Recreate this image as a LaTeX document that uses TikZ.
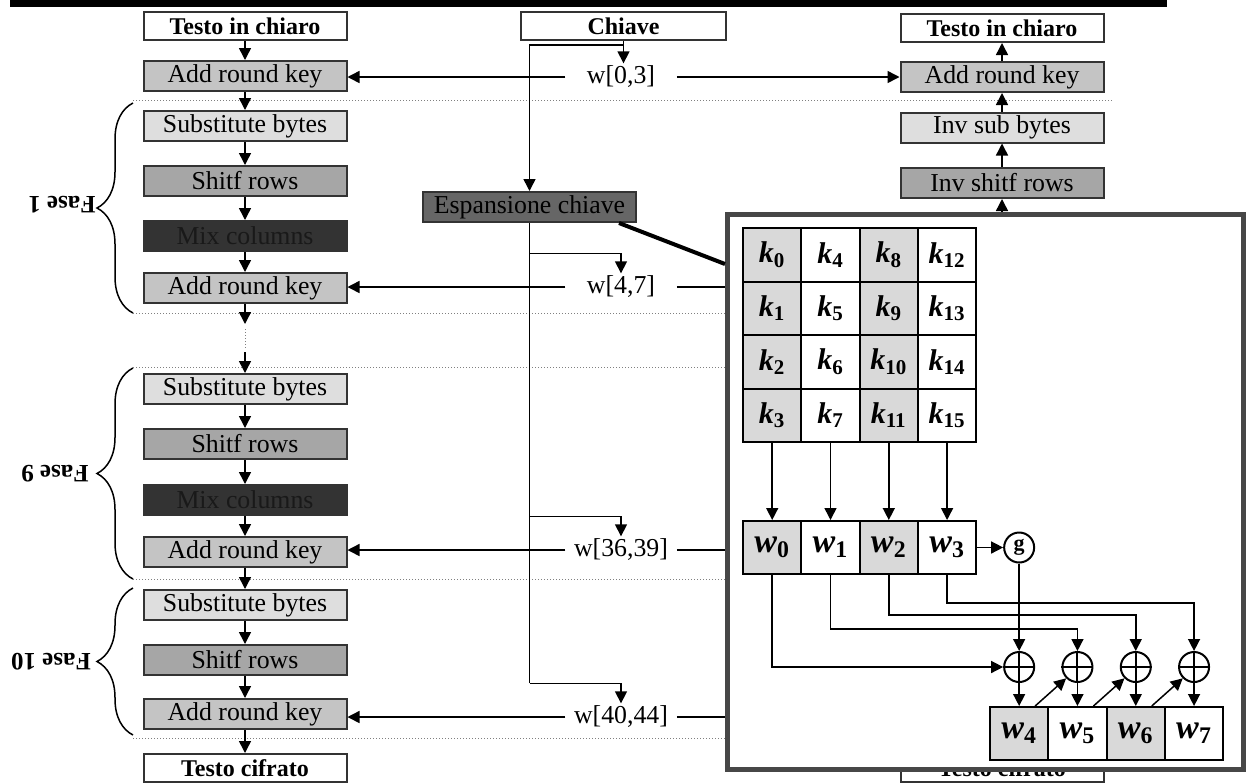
\documentclass[tikz,border=0pt]{standalone}
\usepackage{fontspec}
\setmainfont{Liberation Serif}
\usepackage{tikz}
\usetikzlibrary{arrows, arrows.meta, decorations.pathreplacing}
\definecolor{arkfill}{gray}{0.77}
\definecolor{subfill}{gray}{0.87}
\definecolor{shiftfill}{gray}{0.65}
\definecolor{mixfill}{gray}{0.2}
\definecolor{expfill}{gray}{0.4}
\definecolor{cellfill}{gray}{0.85}
\definecolor{framegray}{gray}{0.28}
\newcommand{\kv}[2]{\textbf{\textit{#1}\textsubscript{#2}}}

\begin{document}
\begin{tikzpicture}[x=0.5pt, y=-0.5pt, >={Triangle[width=6pt,length=6pt]}, line width=0.75pt]
\tikzstyle{stage}=[draw=black!80, line width=1pt, minimum width=101.5pt, minimum height=15pt, inner sep=0pt, font=\fontsize{12.9}{14}\selectfont]
\tikzstyle{title}=[stage, fill=white, minimum height=14pt, font=\fontsize{12}{14}\selectfont\bfseries]
\tikzstyle{arkbox}=[stage, fill=arkfill]
\tikzstyle{subbox}=[stage, fill=subfill]
\tikzstyle{shiftbox}=[stage, fill=shiftfill]
\tikzstyle{mixbox}=[stage, fill=mixfill, text=black!90]
\tikzstyle{wlabel}=[inner xsep=3pt, inner ysep=1pt, minimum width=55pt, font=\fontsize{12.9}{14}\selectfont]
\tikzstyle{divider}=[densely dotted, gray, line width=0.5pt]
\tikzstyle{phase}=[rotate=180, font=\fontsize{12.5}{14}\selectfont\bfseries]
\tikzstyle{cell}=[draw, line width=1pt, minimum width=29.15pt, minimum height=26.75pt, inner sep=0pt, font=\fontsize{15}{16}\selectfont]
\tikzstyle{wcell}=[cell, minimum height=26.5pt, font=\fontsize{17}{18}\selectfont]
\tikzstyle{xorop}=[circle, draw, line width=1pt, minimum size=15pt, inner sep=0pt]
\useasboundingbox (0,0) rectangle (1252,783);
\fill (10,0) rectangle (1167,7);

% cifratura
\node[title] (ltop) at (245,26) {Testo in chiaro};
\node[arkbox] (ark0) at (245,76) {Add round key};
\node[subbox] (sb1) at (245,126) {Substitute bytes};
\node[shiftbox] (sr1) at (245,181) {Shitf rows};
\node[mixbox] (mc1) at (245,236) {Mix columns};
\node[arkbox] (ark1) at (245,288) {Add round key};
\node[subbox] (sb9) at (245,389) {Substitute bytes};
\node[shiftbox] (sr9) at (245,444) {Shitf rows};
\node[mixbox] (mc9) at (245,500) {Mix columns};
\node[arkbox] (ark9) at (245,552) {Add round key};
\node[subbox] (sb10) at (245,605) {Substitute bytes};
\node[shiftbox] (sr10) at (245,660) {Shitf rows};
\node[arkbox] (ark10) at (245,714) {Add round key};
\node[title] (lbot) at (245,768) {Testo cifrato};

% decifratura
\node[title] (rtop) at (1002,28) {Testo in chiaro};
\node[arkbox] (rark) at (1002,77) {Add round key};
\node[subbox] (risb) at (1002,127.5) {Inv sub bytes};
\node[shiftbox] (risr) at (1002,183) {Inv shitf rows};
\node[title] (rbot) at (1002,768) {Testo cifrato};

% chiave
\node[title, minimum width=102.5pt] (key) at (623.5,26) {Chiave};
\node[stage, fill=expfill, minimum width=106.5pt] (kexp) at (529.5,207) {Espansione chiave};
\node[wlabel] (kw03) at (621,77) {w[0,3]};
\node[wlabel] (kw47) at (621,287) {w[4,7]};
\node[wlabel] (kw3639) at (621,550) {w[36,39]};
\node[wlabel] (kw4044) at (621,717) {w[40,44]};

\foreach \y in {100,313,367,579,738}
  \draw[divider] (133,\y) -- (1113,\y);

\path[->]
(ltop) edge (ark0)
(ark0) edge (sb1)
(sb1) edge (sr1)
(sr1) edge (mc1)
(mc1) edge (ark1)
(sb9) edge (sr9)
(sr9) edge (mc9)
(mc9) edge (ark9)
(ark9) edge (sb10)
(sb10) edge (sr10)
(sr10) edge (ark10)
(ark10) edge (lbot)
(rark) edge (rtop)
(risb) edge (rark)
(risr) edge (risb);
\draw[->] (ark1.south) -- ++(0,20);
\draw[divider] (ark1.south) ++(0,25) -- ++(0,20);
\draw[->] (sb9.north) ++(0,-21) -- (sb9.north);
\draw[->] (risr.south) ++(0,30) -- (risr.south);
\draw[->] (rbot.north) ++(0,-20) -- (rbot.north);

\draw (key.south) -- ++(0,4) coordinate (kj);
\draw[->] (kj) -| (kexp.north);
\draw[->] (kj) -- (kj |- kw03.north);
\path (kw47.north) ++(0,-20) coordinate (b47)
      (kw3639.north) ++(0,-20) coordinate (b3639)
      (kw4044.north) ++(0,-20) coordinate (b4044);
\draw (kexp.south) -- (kexp.south |- b4044);
\draw[->] (kexp.south |- b47) -- (b47) -- (kw47.north);
\draw[->] (kexp.south |- b3639) -- (b3639) -- (kw3639.north);
\draw[->] (kexp.south |- b4044) -- (b4044) -- (kw4044.north);

\draw[->] (kw03.west) -- (kw03.west -| ark0.east);
\draw[->] (kw03.east) -- (kw03.east -| rark.west);
\foreach \w/\a in {kw47/ark1, kw3639/ark9, kw4044/ark10} {
  \draw[->] (\w.west) -- (\w.west -| \a.east);
  \draw (\w.east) -- (\w.east -| rark.west);
}

\draw[decorate, decoration={brace, amplitude=18pt}] (133,313) -- (133,103);
\draw[decorate, decoration={brace, amplitude=18pt}] (133,579) -- (133,368);
\draw[decorate, decoration={brace, amplitude=18pt}] (133,735) -- (133,588);
\node[phase] (f1) at (62,205) {Fase 1};
\node[phase] (f9) at (55,474) {Fase 9};
\node[phase] (f10) at (51,662) {Fase 10};

% dettaglio espansione
\node[draw=framegray, line width=2.5pt, fill=white, minimum width=258pt, minimum height=277.5pt, inner sep=0pt] (zoom) at (985.5,492) {};
\draw[line width=2pt] ([xshift=-9pt]kexp.south east) -- ([yshift=-26pt]zoom.north west);

\foreach \c in {0,...,3} {
  \foreach \r in {0,...,3} {
    \pgfmathtruncatemacro{\n}{4*\c+\r}
    \ifodd\c\relax\def\cf{white}\else\def\cf{cellfill}\fi
    \node[cell, fill=\cf] (k\n) at ({772.2+58.3*\c},{254.75+53.5*\r}) {\kv{k}{\n}};
  }
}
\foreach \i in {0,...,3} {
  \ifodd\i\relax\def\cf{white}\else\def\cf{cellfill}\fi
  \pgfmathtruncatemacro{\j}{\i+4}
  \pgfmathtruncatemacro{\n}{4*\i+3}
  \node[wcell, fill=\cf] (w\i) at ({772.2+58.3*\i},547.5) {\kv{w}{\i}};
  \node[wcell, fill=\cf] (w\j) at ({1019.15+58.3*\i},733.5) {\kv{w}{\j}};
  \node[xorop] (x\i) at ({1019.15+58.3*\i},667) {};
  \draw[line width=1pt] (x\i.north) -- (x\i.south) (x\i.west) -- (x\i.east);
  \draw[->] (k\n) -- (w\i);
  \draw[->] (x\i) -- (w\j);
}
\node[xorop, font=\fontsize{11}{12}\selectfont\bfseries] (g) at (1019.15,547.5) {g};

\draw[->] (w3) -- (g);
\draw[->] (g) -- (x0);
\draw[->] (w0) |- (x0);
\draw[->] (w1.south) -- ++(0,54) -| (x1);
\draw[->] (w2.south) -- ++(0,40) -| (x2);
\draw[->] (w3.south) -- ++(0,28) -| (x3);
\draw[->] ([xshift=8pt]w4.north) -- (x1.south west);
\draw[->] ([xshift=8pt]w5.north) -- (x2.south west);
\draw[->] ([xshift=8pt]w6.north) -- (x3.south west);
\end{tikzpicture}
\end{document}
